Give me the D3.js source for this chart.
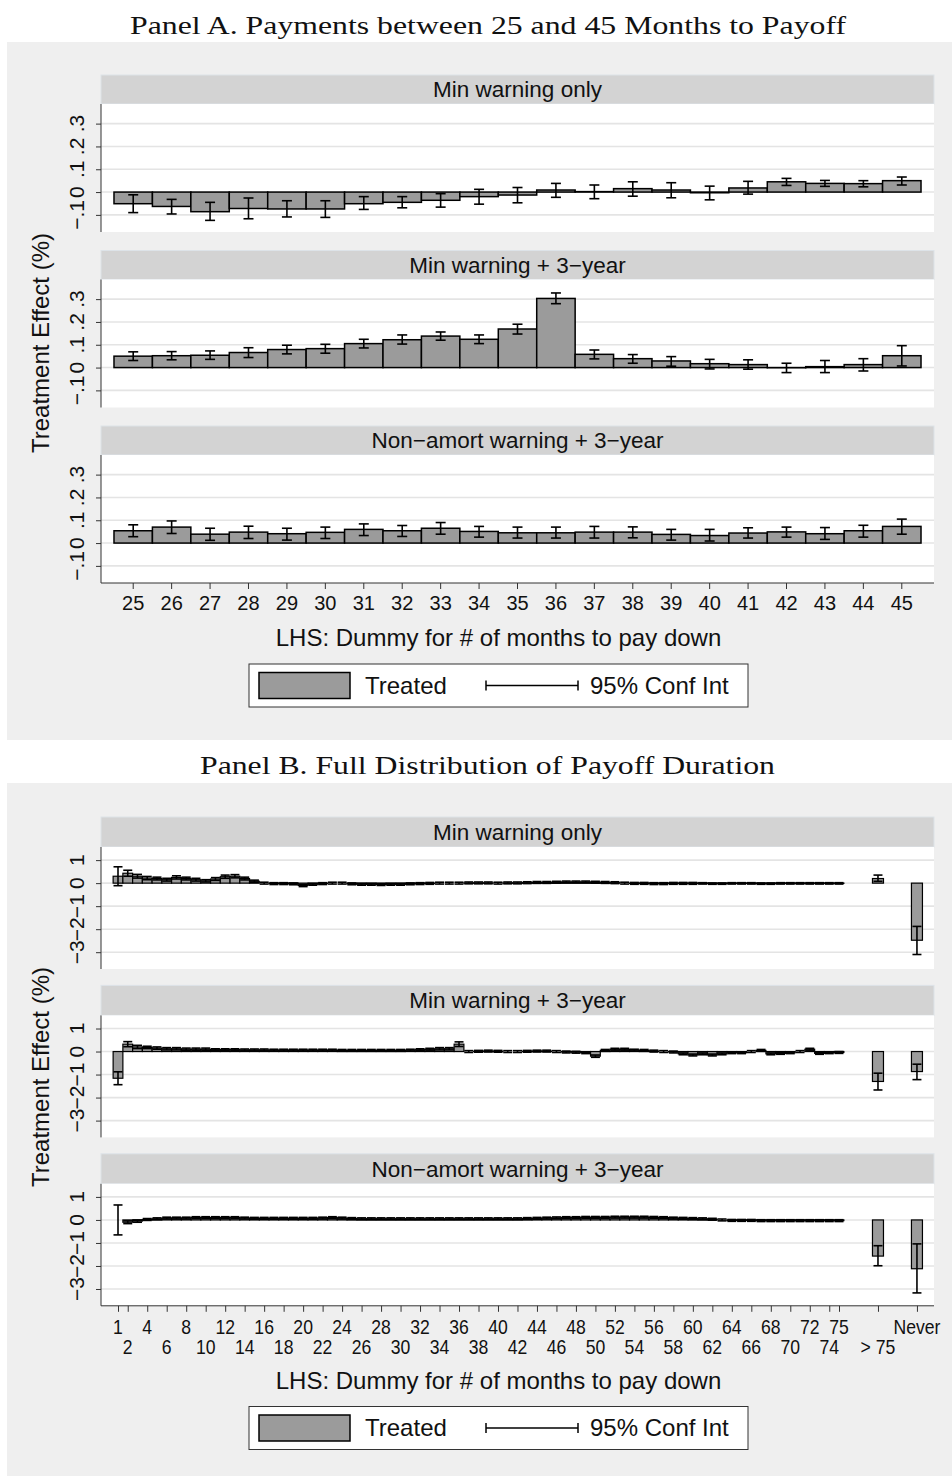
<!DOCTYPE html>
<html><head><meta charset="utf-8">
<script src="https://cdn.jsdelivr.net/npm/d3@7"></script>
<style>body{margin:0;background:#fff} text{font-family:"Liberation Sans",Arial,sans-serif;fill:#111}</style>
</head><body><svg id="c" width="952" height="1476"></svg>
<script>
// ---------------- DATA ----------------
const monthsA = [25,26,27,28,29,30,31,32,33,34,35,36,37,38,39,40,41,42,43,44,45];
const subplotTitles = ["Min warning only","Min warning + 3\u2212year","Non\u2212amort warning + 3\u2212year"];

// Panel A: point estimates and 95% CI bounds
const aMinOnly   = [-0.051,-0.063,-0.086,-0.072,-0.074,-0.074,-0.051,-0.045,-0.036,-0.020,-0.013,0.009,0.002,0.015,0.009,-0.003,0.018,0.045,0.038,0.037,0.050];
const aMinOnlyLo = [-0.090,-0.096,-0.124,-0.117,-0.109,-0.111,-0.076,-0.069,-0.066,-0.053,-0.047,-0.023,-0.029,-0.018,-0.025,-0.034,-0.009,0.029,0.025,0.023,0.031];
const aMinOnlyHi = [-0.012,-0.032,-0.045,-0.026,-0.038,-0.038,-0.020,-0.020,-0.007,0.012,0.020,0.038,0.031,0.045,0.041,0.026,0.047,0.060,0.051,0.050,0.066];

const aMin3      = [0.050,0.052,0.054,0.066,0.079,0.083,0.105,0.122,0.138,0.124,0.169,0.303,0.058,0.039,0.029,0.017,0.013,-0.001,0.004,0.013,0.052];
const aMin3Lo    = [0.031,0.034,0.036,0.044,0.060,0.063,0.086,0.103,0.120,0.105,0.147,0.280,0.038,0.019,0.006,-0.006,-0.007,-0.022,-0.022,-0.015,0.007];
const aMin3Hi    = [0.069,0.070,0.073,0.087,0.098,0.102,0.124,0.143,0.156,0.143,0.190,0.327,0.077,0.057,0.048,0.036,0.034,0.019,0.031,0.039,0.096];

const aNon3      = [0.054,0.070,0.039,0.048,0.041,0.047,0.060,0.054,0.065,0.051,0.045,0.045,0.048,0.048,0.038,0.033,0.044,0.049,0.041,0.054,0.073];
const aNon3Lo    = [0.028,0.042,0.012,0.020,0.013,0.020,0.033,0.029,0.039,0.026,0.022,0.022,0.022,0.023,0.013,0.009,0.022,0.026,0.016,0.026,0.039];
const aNon3Hi    = [0.080,0.097,0.065,0.074,0.065,0.070,0.084,0.077,0.090,0.073,0.070,0.070,0.073,0.071,0.060,0.060,0.067,0.070,0.068,0.078,0.105];

const yTicksA = [-0.1,0,0.1,0.2,0.3];
const yTickLabelsA = ["\u2212.1","0",".1",".2",".3"];

// Panel B: months 1..75, then ">75" and "Never"
const monthsB = d3.range(1,76);
const extraCats = [">75","Never"];

const bMinOnly = [0.30,0.43,0.30,0.22,0.20,0.15,0.25,0.20,0.15,0.10,
  0.18,0.28,0.30,0.20,0.08,0.00,-0.02,-0.02,-0.03,-0.10,
  -0.05,-0.02,0.00,0.00,-0.03,-0.05,-0.05,-0.06,-0.05,-0.05,
  -0.03,-0.02,-0.01,0.00,0.00,0.00,0.01,0.01,0.01,0.00,
  0.01,0.01,0.02,0.03,0.03,0.04,0.05,0.05,0.05,0.04,
  0.03,0.02,0.00,-0.01,-0.01,-0.02,-0.02,-0.01,-0.01,-0.01,
  -0.01,-0.02,-0.02,-0.01,-0.01,-0.01,-0.02,-0.02,-0.01,-0.01,
  -0.01,-0.01,-0.01,-0.01,-0.01];
const bMinOnlyHalf = [0.41,0.13,0.08,0.07,0.06,0.06,0.07,0.06,0.06,0.05,
  0.06,0.07,0.07,0.06,0.05,0.04,0.04,0.04,0.04,0.05,
  0.04,0.04,0.04,0.04,0.04,0.04,0.04,0.04,0.04,0.04,
  0.04,0.04,0.04,0.04,0.04,0.04,0.04,0.04,0.04,0.04,
  0.04,0.04,0.04,0.04,0.04,0.04,0.04,0.04,0.04,0.04,
  0.04,0.04,0.04,0.04,0.04,0.04,0.04,0.04,0.04,0.04,
  0.03,0.03,0.03,0.03,0.03,0.03,0.03,0.03,0.03,0.03,
  0.03,0.03,0.03,0.03,0.03];
const bMinOnlyExtra = [0.20,-2.48], bMinOnlyExtraLo = [0.08,-3.10], bMinOnlyExtraHi = [0.35,-1.88];

const bMin3 = [-1.16,0.32,0.20,0.18,0.15,0.12,0.12,0.10,0.10,0.10,
  0.08,0.08,0.08,0.07,0.07,0.07,0.06,0.06,0.06,0.06,
  0.06,0.06,0.06,0.05,0.05,0.05,0.05,0.05,0.05,0.05,
  0.06,0.08,0.10,0.12,0.12,0.32,0.00,0.01,0.02,0.01,
  0.00,0.00,0.01,0.02,0.02,0.00,-0.02,-0.03,-0.05,-0.20,
  0.05,0.10,0.10,0.06,0.05,0.02,0.00,-0.02,-0.10,-0.15,
  -0.10,-0.15,-0.10,-0.05,-0.05,0.00,0.05,-0.10,-0.08,-0.05,
  0.00,0.10,-0.08,-0.05,-0.04];
const bMin3Half = [0.28,0.11,0.07,0.05,0.05,0.05,0.05,0.05,0.05,0.05,
  0.04,0.04,0.04,0.04,0.04,0.04,0.04,0.04,0.04,0.04,
  0.04,0.04,0.04,0.04,0.04,0.04,0.04,0.04,0.04,0.04,
  0.04,0.04,0.04,0.05,0.05,0.10,0.04,0.04,0.04,0.04,
  0.04,0.04,0.04,0.04,0.04,0.04,0.04,0.04,0.04,0.05,
  0.04,0.04,0.04,0.04,0.04,0.04,0.04,0.04,0.04,0.04,
  0.04,0.04,0.04,0.04,0.04,0.04,0.04,0.04,0.04,0.04,
  0.04,0.04,0.04,0.04,0.04];
const bMin3Extra = [-1.30,-0.87], bMin3ExtraLo = [-1.67,-1.22], bMin3ExtraHi = [-0.94,-0.55];

const bNon3 = [0.00,-0.10,-0.05,0.02,0.05,0.08,0.08,0.08,0.10,0.10,
  0.10,0.10,0.10,0.08,0.07,0.07,0.07,0.07,0.07,0.07,
  0.07,0.08,0.10,0.08,0.06,0.05,0.05,0.05,0.05,0.05,
  0.05,0.05,0.05,0.05,0.05,0.05,0.05,0.05,0.05,0.05,
  0.05,0.05,0.06,0.07,0.08,0.09,0.10,0.10,0.11,0.11,
  0.11,0.12,0.12,0.12,0.12,0.11,0.10,0.08,0.07,0.06,
  0.05,0.03,0.00,-0.02,-0.02,-0.02,-0.03,-0.03,-0.03,-0.03,
  -0.03,-0.03,-0.03,-0.03,-0.03];
const bNon3Half = [0.65,0.06,0.05,0.04,0.04,0.04,0.04,0.04,0.04,0.04,
  0.04,0.04,0.04,0.04,0.04,0.04,0.04,0.04,0.04,0.04,
  0.04,0.04,0.04,0.04,0.04,0.04,0.04,0.04,0.04,0.04,
  0.04,0.04,0.04,0.04,0.04,0.04,0.04,0.04,0.04,0.04,
  0.04,0.04,0.04,0.04,0.04,0.04,0.04,0.04,0.04,0.04,
  0.04,0.04,0.04,0.04,0.04,0.04,0.04,0.04,0.04,0.04,
  0.04,0.04,0.04,0.04,0.04,0.04,0.04,0.04,0.04,0.04,
  0.04,0.04,0.04,0.04,0.04];
const bNon3Extra = [-1.57,-2.12], bNon3ExtraLo = [-1.99,-3.17], bNon3ExtraHi = [-1.12,-1.04];

const yTicksB = [-3,-2,-1,0,1];
const yTickLabelsB = ["\u22123","\u22122","\u22121","0","1"];
const bRow1Months = [1,4,8,12,16,20,24,28,32,36,40,44,48,52,56,60,64,68,72,75];
const bRow2Months = [2,6,10,14,18,22,26,30,34,38,42,46,50,54,58,62,66,70,74];

const panelTitles = ["Panel A. Payments between 25 and 45 Months to Payoff","Panel B. Full Distribution of Payoff Duration"];
const xAxisTitle = "LHS: Dummy for # of months to pay down";
const yAxisTitle = "Treatment Effect (%)";
const legendLabels = ["Treated","95% Conf Int"];

// ---------------- DRAWING ----------------
const svg = d3.select("#c");
const plotL = 101, plotR = 934;
const BAR_FILL = "#9b9b9b", BG = "#efefef", STRIP = "#d3d3d3", GRID = "#e4e4e4";

function serifTitle(txt, cx, y, len){
  svg.append("text").attr("x",cx).attr("y",y).attr("text-anchor","middle")
    .style("font-family","'Liberation Serif','Times New Roman',serif").style("font-size","25px")
    .attr("textLength",len).attr("lengthAdjust","spacingAndGlyphs").text(txt);
}

function subplotFrame(stripTop, stripH, plotH, yScale, ticks, tickLabels, title){
  const plotTop = stripTop + stripH;
  svg.append("rect").attr("x",plotL).attr("y",stripTop).attr("width",plotR-plotL).attr("height",stripH)
    .attr("fill",STRIP).attr("stroke","#dde3e8").attr("stroke-width",1);
  svg.append("text").attr("x",(plotL+plotR)/2).attr("y",stripTop+stripH/2).attr("dy","0.35em")
    .attr("text-anchor","middle").style("font-size","22.5px").text(title);
  svg.append("rect").attr("x",plotL).attr("y",plotTop).attr("width",plotR-plotL).attr("height",plotH).attr("fill","#fff");
  const g = svg.append("g");
  g.selectAll("line.grid").data(ticks).join("line").attr("class","grid")
    .attr("x1",plotL).attr("x2",plotR).attr("y1",d=>yScale(d)).attr("y2",d=>yScale(d))
    .attr("stroke",GRID).attr("stroke-width",1.6);
  const ax = d3.axisLeft(yScale).tickValues(ticks).tickSize(5).tickFormat("");
  const ag = svg.append("g").attr("transform",`translate(${plotL},0)`).call(ax);
  ag.select(".domain").attr("d",`M0,${plotTop}V${plotTop+plotH}`).attr("stroke","#333");
  ag.selectAll(".tick line").attr("stroke","#333");
  svg.append("g").selectAll("text").data(ticks).join("text")
    .attr("transform",d=>`translate(84,${yScale(d)}) rotate(-90)`)
    .attr("text-anchor","middle").style("font-size","21px")
    .text((d,i)=>tickLabels[i]);
  return g;
}

function drawCI(g, x, lo, hi, cap){
  g.append("line").attr("x1",x).attr("x2",x).attr("y1",lo).attr("y2",hi).attr("stroke","#000").attr("stroke-width",1.6);
  g.append("line").attr("x1",x-cap/2).attr("x2",x+cap/2).attr("y1",lo).attr("y2",lo).attr("stroke","#000").attr("stroke-width",1.6);
  g.append("line").attr("x1",x-cap/2).attr("x2",x+cap/2).attr("y1",hi).attr("y2",hi).attr("stroke","#000").attr("stroke-width",1.6);
}

function legend(cx, cy){
  const w = 499, h = 43, x0 = cx - w/2, y0 = cy - h/2;
  svg.append("rect").attr("x",x0).attr("y",y0).attr("width",w).attr("height",h).attr("fill","#fff").attr("stroke","#333").attr("stroke-width",1);
  svg.append("rect").attr("x",x0+10).attr("y",cy-13).attr("width",91).attr("height",26).attr("fill",BAR_FILL).attr("stroke","#000").attr("stroke-width",1.5);
  svg.append("text").attr("x",x0+116).attr("y",cy).attr("dy","0.35em").style("font-size","24px").text(legendLabels[0]);
  svg.append("line").attr("x1",x0+237).attr("x2",x0+329).attr("y1",cy).attr("y2",cy).attr("stroke","#000").attr("stroke-width",1.5);
  svg.append("line").attr("x1",x0+237).attr("x2",x0+237).attr("y1",cy-5).attr("y2",cy+5).attr("stroke","#000").attr("stroke-width",1.5);
  svg.append("line").attr("x1",x0+329).attr("x2",x0+329).attr("y1",cy-5).attr("y2",cy+5).attr("stroke","#000").attr("stroke-width",1.5);
  svg.append("text").attr("x",x0+341).attr("y",cy).attr("dy","0.35em").style("font-size","24px").text(legendLabels[1]);
}

function yTitle(cy){
  svg.append("text").attr("transform",`translate(49,${cy}) rotate(-90)`).attr("text-anchor","middle")
    .style("font-size","24px").text(yAxisTitle);
}

// ====== Panel A ======
svg.append("rect").attr("x",7).attr("y",42).attr("width",945).attr("height",698).attr("fill",BG);
serifTitle(panelTitles[0], 488, 34, 716);

const xA = d3.scaleBand().domain(monthsA).range([plotL,plotR]).paddingInner(0).paddingOuter(0.338);
const seriesA = [[aMinOnly,aMinOnlyLo,aMinOnlyHi],[aMin3,aMin3Lo,aMin3Hi],[aNon3,aNon3Lo,aNon3Hi]];
const stripTopsA = [75, 250.5, 426];
seriesA.forEach((s,k)=>{
  const st = stripTopsA[k], sh = 29, ph = 128;
  const y = d3.scaleLinear().domain([-0.175,0.386]).range([st+sh+ph, st+sh]);
  const g = subplotFrame(st, sh, ph, y, yTicksA, yTickLabelsA, subplotTitles[k]);
  g.selectAll("rect.bar").data(monthsA).join("rect").attr("class","bar")
    .attr("x",d=>xA(d)).attr("width",xA.bandwidth())
    .attr("y",(d,i)=>y(Math.max(0,s[0][i]))).attr("height",(d,i)=>Math.abs(y(s[0][i])-y(0)))
    .attr("fill",BAR_FILL).attr("stroke","#000").attr("stroke-width",1.5);
  monthsA.forEach((m,i)=>drawCI(g, xA(m)+xA.bandwidth()/2, y(s[1][i]), y(s[2][i]), 10));
  if(k===2){
    const ax = d3.axisBottom(xA).tickSize(6).tickSizeOuter(0);
    const gx = svg.append("g").attr("transform",`translate(0,${st+sh+ph})`).call(ax);
    gx.select(".domain").attr("stroke","#333").attr("d",`M${plotL},0H${plotR}`);
    gx.selectAll(".tick line").attr("stroke","#333");
    gx.selectAll(".tick text").style("font-size","20px").style("font-family","'Liberation Sans',Arial,sans-serif").attr("fill","#111").attr("y",13);
  }
});
yTitle(343);
svg.append("text").attr("x",498.5).attr("y",638).attr("dy","0.35em").attr("text-anchor","middle").style("font-size","24px").text(xAxisTitle);
legend(498.5, 685.5);

// ====== Panel B ======
svg.append("rect").attr("x",7).attr("y",783).attr("width",945).attr("height",693).attr("fill",BG);
serifTitle(panelTitles[1], 487.5, 774, 575);

const catPos = c => typeof c === "number" ? c : (c === ">75" ? 79 : 83);
const xB = d3.scaleLinear().domain([-0.745, 84.75]).range([plotL, plotR]);
const unitW = xB(1)-xB(0);
const seriesB = [
  [bMinOnly,bMinOnlyHalf,bMinOnlyExtra,bMinOnlyExtraLo,bMinOnlyExtraHi],
  [bMin3,bMin3Half,bMin3Extra,bMin3ExtraLo,bMin3ExtraHi],
  [bNon3,bNon3Half,bNon3Extra,bNon3ExtraLo,bNon3ExtraHi]];
const stripTopsB = [817, 985.4, 1153.8];
seriesB.forEach((s,k)=>{
  const st = stripTopsB[k], sh = 30, ph = 122;
  const y = d3.scaleLinear().domain([-3.73,1.57]).range([st+sh+ph, st+sh]);
  const g = subplotFrame(st, sh, ph, y, yTicksB, yTickLabelsB, subplotTitles[k]);
  g.selectAll("rect.bar").data(monthsB).join("rect").attr("class","bar")
    .attr("x",d=>xB(d)-unitW/2).attr("width",unitW)
    .attr("y",(d,i)=>y(Math.max(0,s[0][i]))).attr("height",(d,i)=>Math.abs(y(s[0][i])-y(0)))
    .attr("fill",BAR_FILL).attr("stroke","#000").attr("stroke-width",1.2);
  g.selectAll("rect.xbar").data(extraCats).join("rect").attr("class","xbar")
    .attr("x",d=>xB(catPos(d))-5.5).attr("width",11)
    .attr("y",(d,i)=>y(Math.max(0,s[2][i]))).attr("height",(d,i)=>Math.abs(y(s[2][i])-y(0)))
    .attr("fill",BAR_FILL).attr("stroke","#000").attr("stroke-width",1.2);
  monthsB.forEach((m,i)=>drawCI(g, xB(m), y(s[0][i]-s[1][i]), y(s[0][i]+s[1][i]), 9));
  extraCats.forEach((c,i)=>drawCI(g, xB(catPos(c)), y(s[3][i]), y(s[4][i]), 9));
  if(k===2){
    const axisY = st+sh+ph;
    const tickVals = bRow1Months.concat(bRow2Months).concat(extraCats.map(catPos));
    const ax = d3.axisBottom(xB).tickValues(tickVals).tickSize(6).tickSizeOuter(0).tickFormat("");
    const gx = svg.append("g").attr("transform",`translate(0,${axisY})`).call(ax);
    gx.select(".domain").attr("stroke","#333").attr("d",`M${plotL},0H${plotR}`);
    gx.selectAll(".tick line").attr("stroke","#333");
    const row1 = bRow1Months.map(m=>({p:m,t:String(m)})).concat([{p:catPos("Never"),t:"Never"}]);
    const row2 = bRow2Months.map(m=>({p:m,t:String(m)})).concat([{p:catPos(">75"),t:"> 75"}]);
    [[row1,21],[row2,41]].forEach(([row,dy])=>{
      svg.append("g").selectAll("text").data(row).join("text")
        .attr("transform",d=>`translate(${xB(d.p)},${axisY+dy}) scale(0.88,1)`)
        .attr("dy","0.35em").attr("text-anchor","middle").style("font-size","20px").text(d=>d.t);
    });
  }
});
yTitle(1077);
svg.append("text").attr("x",498.5).attr("y",1381).attr("dy","0.35em").attr("text-anchor","middle").style("font-size","24px").text(xAxisTitle);
legend(498.5, 1428);
</script>
</body></html>
